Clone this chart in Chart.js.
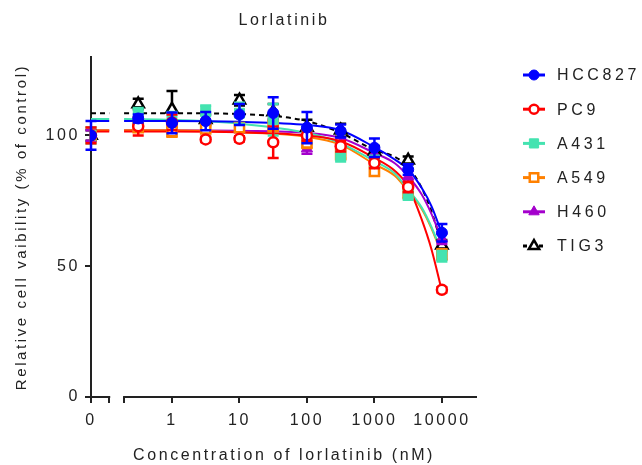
<!DOCTYPE html>
<html><head><meta charset="utf-8">
<script src="https://cdn.jsdelivr.net/npm/chart.js@4/dist/chart.umd.min.js"></script>
<style>html,body{margin:0;padding:0;background:#fff;}#wrap{width:642px;height:465px;position:relative;}</style>
</head><body><div id="wrap"><canvas id="c" width="642" height="465"></canvas></div>
<script>
const chartTitle = 'Lorlatinib';
const xAxisTitle = 'Concentration of lorlatinib (nM)';
const yAxisTitle = 'Relative cell vaibility (% of control)';

const concentrations = [0, 0.316, 1, 3.16, 10, 31.6, 100, 316, 1000, 3162, 10000];
const xTickValues = [0, 1, 10, 100, 1000, 10000];
const xTickLabels = ['0', '1', '10', '100', '1000', '10000'];
const yTickValues = [0, 50, 100];

const seriesNames = ['HCC827', 'PC9', 'A431', 'A549', 'H460', 'TIG3'];

const hcc827Mean = [100, 106.5, 104.8, 105.5, 108, 108.6, 103, 101.7, 95.3, 87, 62.8];
const hcc827SD   = [5.5, 1.5, 4, 3.5, 4, 6, 6, 2.5, 3.5, 2, 3.3];
const pc9Mean    = [100, 103.5, 105, 98.5, 98.7, 97.4, 100, 95.9, 89.5, 80.3, 41];
const pc9SD      = [3, 3.5, 3, 1, 1, 6, 2, 2, 2, 2, 1];
const a431Mean   = [100, 108.5, 107, 109.5, 108.5, 106, 100.5, 92, 90.2, 77.4, 53.8];
const a431SD     = [3, 2, 2, 2, 4, 6, 3, 2, 2, 2, 2];
const a549Mean   = [100, 103, 101.5, 102.5, 103, 103.6, 97.2, 92.7, 86.3, 78, 54.5];
const a549SD     = [3, 1, 2, 1, 1, 2, 2, 1.5, 1.5, 2, 2];
const h460Mean   = [100, 103, 103, 103, 102.3, 104.5, 95, 97, 93, 84.4, 60.5];
const h460SD     = [2, 1, 1, 1, 1, 2, 2, 2, 2, 2, 2];
const tig3Mean   = [100, 112, 110, 106, 113.5, 109, 103, 102, 94, 90.5, 58];
const tig3SD     = [2, 2, 7, 2, 2, 3, 3, 2.5, 2, 1.5, 2];

// fitted curves
const fitConcentrations = [0.195, 1, 10, 100, 316, 1000, 2000, 3162, 5000, 7000, 10000];
const hcc827Fit = [105.5, 105.5, 105.2, 104, 102, 95.5, 90.8, 87, 80, 73, 62.5];
const pc9Fit    = [101.5, 101.5, 101.2, 100, 97.8, 91.4, 86.5, 80.5, 68, 56.5, 40.5];
const a431Fit   = [106.3, 106, 104.5, 101, 97, 90.2, 85.5, 79.3, 72.5, 65, 55];
const a549Fit   = [102, 102, 101.2, 99.5, 96.5, 89, 84.6, 78.7, 72, 64.5, 54.5];
const h460Fit   = [102, 102, 101.8, 101, 99, 93.3, 89.4, 84.4, 77.5, 70, 60];
const tig3Fit   = [108.5, 108.5, 108.2, 105.5, 101, 94.5, 91.8, 88, 80, 71, 58];

const seriesColors = ['#0000ff', '#ff0000', '#44e3b0', '#ff8000', '#a400cc', '#000000'];
const seriesMarkers = ['circle', 'circle', 'rect', 'rect', 'triangle', 'triangle'];
const seriesOpen = [false, true, false, true, false, true];

const means = [hcc827Mean, pc9Mean, a431Mean, a549Mean, h460Mean, tig3Mean];
const sds = [hcc827SD, pc9SD, a431SD, a549SD, h460SD, tig3SD];
const fits = [hcc827Fit, pc9Fit, a431Fit, a549Fit, h460Fit, tig3Fit];

// axis geometry (log10 units)
const ZERO_POS = Math.pow(10, -1.2);
const BREAK_LEFT = Math.pow(10, -0.93);
const BREAK_RIGHT = Math.pow(10, -0.71);
const X_MAX = Math.pow(10, 4.52);
const FONT = "'Liberation Sans', Arial, sans-serif";
const TEXT = '#222';

const toX = c => (c === 0 ? ZERO_POS : c);
const xTicksAll = [ZERO_POS, BREAK_LEFT, BREAK_RIGHT].concat(xTickValues.slice(1));
const xLabelsAll = [xTickLabels[0], '', ''].concat(xTickLabels.slice(1));

const pointRadius = [5.5, 5, 7, 6.5, 6.5, 6.5];
const legendRadius = [5, 4.5, 6.5, 6, 6, 6];
const datasets = [];
seriesNames.forEach((name, i) => {
  datasets.push({
    label: name,
    type: 'line',
    showLine: false,
    data: concentrations.map((c, k) => ({x: toX(c), y: means[i][k]})),
    errors: sds[i],
    pointStyle: seriesMarkers[i],
    pointRadius: pointRadius[i],
    pointBorderWidth: seriesOpen[i] ? 2.5 : 1,
    borderColor: seriesColors[i],
    pointBorderColor: seriesColors[i],
    pointBackgroundColor: seriesOpen[i] ? '#ffffff' : seriesColors[i],
    order: i
  });
});
seriesNames.forEach((name, i) => {
  const f = fits[i];
  const pts = [{x: ZERO_POS, y: f[0]}, {x: BREAK_LEFT, y: f[0]}, {x: Math.sqrt(BREAK_LEFT * BREAK_RIGHT), y: null}]
    .concat(fitConcentrations.map((c, k) => ({x: c, y: f[k]})));
  datasets.push({
    label: name + ' fit',
    isFit: true,
    type: 'line',
    data: pts,
    borderColor: seriesColors[i],
    borderWidth: 2,
    borderDash: i === 5 ? [5, 4] : [],
    pointRadius: 0,
    spanGaps: false,
    cubicInterpolationMode: 'monotone',
    order: 10 + i
  });
});

const spacingPlugin = {
  id: 'spacing',
  beforeDraw(chart) { chart.ctx.letterSpacing = '2.6px'; }
};

const errorBarPlugin = {
  id: 'errorBars',
  beforeDatasetDraw(chart, args) {
    const ds = chart.data.datasets[args.index];
    if (!ds.errors) return;
    const xs = chart.scales.x, ys = chart.scales.y, ctx = chart.ctx;
    ctx.save();
    ctx.strokeStyle = ds.borderColor;
    ctx.lineWidth = 2.5;
    ds.data.forEach((p, k) => {
      const e = ds.errors[k];
      if (!e) return;
      const x = xs.getPixelForValue(p.x);
      const y1 = ys.getPixelForValue(p.y + e);
      const y2 = ys.getPixelForValue(p.y - e);
      ctx.beginPath();
      ctx.moveTo(x, y1); ctx.lineTo(x, y2);
      ctx.moveTo(x - 5.5, y1); ctx.lineTo(x + 5.5, y1);
      ctx.moveTo(x - 5.5, y2); ctx.lineTo(x + 5.5, y2);
      ctx.stroke();
    });
    ctx.restore();
  }
};

const axisBreakPlugin = {
  id: 'axisBreak',
  beforeDatasetsDraw(chart) {
    const xs = chart.scales.x, ys = chart.scales.y, ctx = chart.ctx;
    const y = Math.round(ys.getPixelForValue(0));
    ctx.save();
    ctx.strokeStyle = TEXT;
    ctx.lineWidth = 2;
    ctx.beginPath();
    ctx.moveTo(xs.getPixelForValue(ZERO_POS), y);
    ctx.lineTo(xs.getPixelForValue(BREAK_LEFT) + 1, y);
    ctx.moveTo(xs.getPixelForValue(BREAK_RIGHT) - 1, y);
    ctx.lineTo(xs.getPixelForValue(X_MAX), y);
    ctx.stroke();
    ctx.restore();
  }
};

function drawMarker(ctx, style, x, y, r, color, open) {
  ctx.beginPath();
  if (style === 'circle') {
    ctx.arc(x, y, r, 0, Math.PI * 2);
  } else if (style === 'rect') {
    const s = r * Math.SQRT1_2;
    ctx.rect(x - s, y - s, 2 * s, 2 * s);
  } else {
    const w = r * Math.sqrt(3) / 2;
    ctx.moveTo(x, y - r);
    ctx.lineTo(x + w, y + r / 2);
    ctx.lineTo(x - w, y + r / 2);
    ctx.closePath();
  }
  ctx.fillStyle = open ? '#ffffff' : color;
  ctx.fill();
  ctx.lineWidth = open ? 2.5 : 1;
  ctx.strokeStyle = color;
  ctx.stroke();
}

const legendPlugin = {
  id: 'customLegend',
  afterDraw(chart) {
    const ctx = chart.ctx;
    const x0 = 523, x1 = 545, top = 75, step = 34.2;
    ctx.save();
    seriesNames.forEach((name, i) => {
      const y = top + i * step;
      ctx.save();
      ctx.strokeStyle = seriesColors[i];
      ctx.lineWidth = 3;
      if (i === 5) ctx.setLineDash([4, 4]);
      ctx.beginPath(); ctx.moveTo(x0, y); ctx.lineTo(x1, y); ctx.stroke();
      ctx.restore();
      drawMarker(ctx, seriesMarkers[i], (x0 + x1) / 2, y, legendRadius[i], seriesColors[i], seriesOpen[i]);
      ctx.letterSpacing = '3.6px';
      ctx.font = '16px ' + FONT;
      ctx.fillStyle = TEXT;
      ctx.textAlign = 'left';
      ctx.textBaseline = 'middle';
      ctx.fillText(name, 557, y + 1);
    });
    ctx.restore();
  }
};

new Chart(document.getElementById('c'), {
  data: {datasets},
  options: {
    responsive: false,
    devicePixelRatio: 1,
    animation: false,
    layout: {padding: {left: 0, right: 165, top: 0, bottom: 0}},
    plugins: {
      legend: {display: false},
      tooltip: {enabled: false},
      title: {
        display: true, text: chartTitle, fullSize: false, color: TEXT,
        font: {size: 16, weight: 'normal', family: FONT},
        padding: {top: 11, bottom: 26.8}
      }
    },
    scales: {
      x: {
        type: 'logarithmic', min: ZERO_POS, max: X_MAX,
        afterBuildTicks: s => { s.ticks = xTicksAll.map(v => ({value: v})); },
        afterFit: s => { s.height = 68; },
        ticks: {
          autoSkip: false, maxRotation: 0, minRotation: 0, padding: 8, color: TEXT,
          font: {size: 16, family: FONT},
          callback: (v, i) => xLabelsAll[i]
        },
        grid: {drawOnChartArea: false, drawTicks: true, tickLength: 6, color: TEXT, lineWidth: 2},
        border: {display: false},
        title: {display: true, text: xAxisTitle, color: TEXT, font: {size: 16, family: FONT}, padding: {top: 0, bottom: 0}}
      },
      y: {
        type: 'linear', min: 0, max: 130,
        afterBuildTicks: s => { s.ticks = yTickValues.map(v => ({value: v})); },
        afterFit: s => { s.width = 91; },
        ticks: {padding: 5, color: TEXT, font: {size: 16, family: FONT}},
        grid: {drawOnChartArea: false, drawTicks: true, tickLength: 6, color: TEXT, lineWidth: 2},
        border: {display: true, color: TEXT, width: 2},
        title: {display: true, text: yAxisTitle, color: TEXT, font: {size: 15, family: FONT}, padding: {top: 13, bottom: 0}}
      }
    }
  },
  plugins: [spacingPlugin, axisBreakPlugin, errorBarPlugin, legendPlugin]
});
</script>
</body></html>
